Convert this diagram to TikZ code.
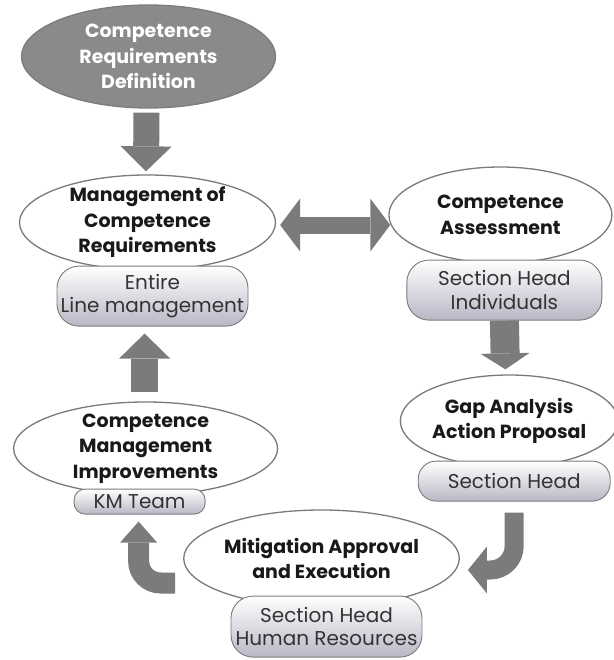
\documentclass[tikz,border=0pt]{standalone}
\usepackage{fontspec}
\setmainfont{Poppins}
\usetikzlibrary{shapes.geometric,arrows.meta,positioning,calc}
\definecolor{arrowgray}{HTML}{7B7B7B}
\definecolor{rimgray}{HTML}{7A7A7A}
\definecolor{topgray}{HTML}{8A8A8A}
\definecolor{pillgray}{HTML}{B8B8C6}
\definecolor{inkgray}{HTML}{333333}

\tikzset{
  stage/.style={ellipse, draw=rimgray, line width=1.3pt, fill=white, align=center,
    inner xsep=0pt, inner ysep=-18pt, text=black!90,
    font=\fontsize{19}{25.5}\selectfont\bfseries},
  owner/.style={rectangle, rounded corners=22pt, draw=rimgray, line width=0.9pt,
    top color=white, bottom color=pillgray, align=center, inner sep=0pt,
    text=inkgray, font=\fontsize{20}{23.5}\selectfont},
  flow/.style n args={3}{draw=arrowgray, line width=#1,
    -{Triangle[width=#2, length=#3, line width=0pt]}},
  flows/.style n args={3}{draw=arrowgray, line width=#1,
    {Triangle[width=#2, length=#3, line width=0pt]}-{Triangle[width=#2, length=#3, line width=0pt]}}
}

\begin{document}
\begin{tikzpicture}[x=1pt,y=1pt]
 \useasboundingbox (0,0) rectangle (613,-660);
 %
 \node[stage, draw=topgray!90!black, fill=topgray, text=white,
   minimum width=254pt, minimum height=103pt] (crd) at (148.5,-56.5)
   {Competence\\Requirements\\Definition};
 %
 \node[stage, minimum width=256pt, minimum height=95pt] (mcr) at (147.5,-222.5)
   {Management of\\Competence\\Requirements};
 \node[owner, below=-5pt of mcr, xshift=5pt, minimum width=191pt, minimum height=60pt] (mcrown)
   {Entire\\Line management};
 %
 \node[stage, minimum width=223pt, minimum height=96pt] (cas) at (500.4,-215)
   {Competence\\Assessment};
 \node[owner, below=-4pt of cas, xshift=4pt, minimum width=195pt, minimum height=60pt] (casown)
   {Section Head\\Individuals};
 %
 \node[stage, minimum width=205pt, minimum height=92pt] (gap) at (509.2,-421)
   {Gap Analysis\\Action Proposal};
 \node[owner, below=-7pt of gap, xshift=5pt, minimum width=192pt, minimum height=40pt,
   rounded corners=18pt] (gapown) {Section Head};
 %
 \node[stage, minimum width=256pt, minimum height=97pt] (mit) at (321.5,-558.5)
   {Mitigation Approval\\and Execution};
 \node[owner, below=-12pt of mit, xshift=5pt, minimum width=191pt, minimum height=61pt] (mitown)
   {Section Head\\Human Resources};
 %
 \node[stage, minimum width=264pt, minimum height=93pt] (cmi) at (145.6,-448.5)
   {Competence\\Management\\Improvements};
 \node[owner, below=-7pt of cmi, xshift=-6pt, minimum width=131pt, minimum height=25pt,
   rounded corners=11pt] (cmiown) {KM Team};
 %
 \draw[flow={26pt}{51pt}{25pt}] ($(crd.south)+(-2,-4)$) -- ($(mcr.north)+(-1.5,3)$);
 \draw[flows={17pt}{53pt}{20pt}] ($(mcr.east)+(4,-2.5)$) -- ($(mcr.east -| cas.west)+(2,-2.5)$);
 \draw[flow={29pt}{49pt}{16pt}] (casown.south) -- ($(casown.south |- gap.north)+(1,5)$);
 \draw[flow={19pt}{47pt}{19pt}, rounded corners=24pt]
   ($(gapown.south)+(0,-11)$) |- ($(mit.east)+(8,-11.5)$);
 \draw[flow={21pt}{37pt}{21pt}, rounded corners=22pt]
   ($(mit.west)+(-8,-24.5)$) -| ($(cmiown.south)+(-1,-7)$);
 \draw[flow={27pt}{51pt}{25pt}] ($(cmi.north)+(-1,9)$) -- ($(cmi.north |- mcrown.south)+(-1,-7)$);
\end{tikzpicture}
\end{document}
